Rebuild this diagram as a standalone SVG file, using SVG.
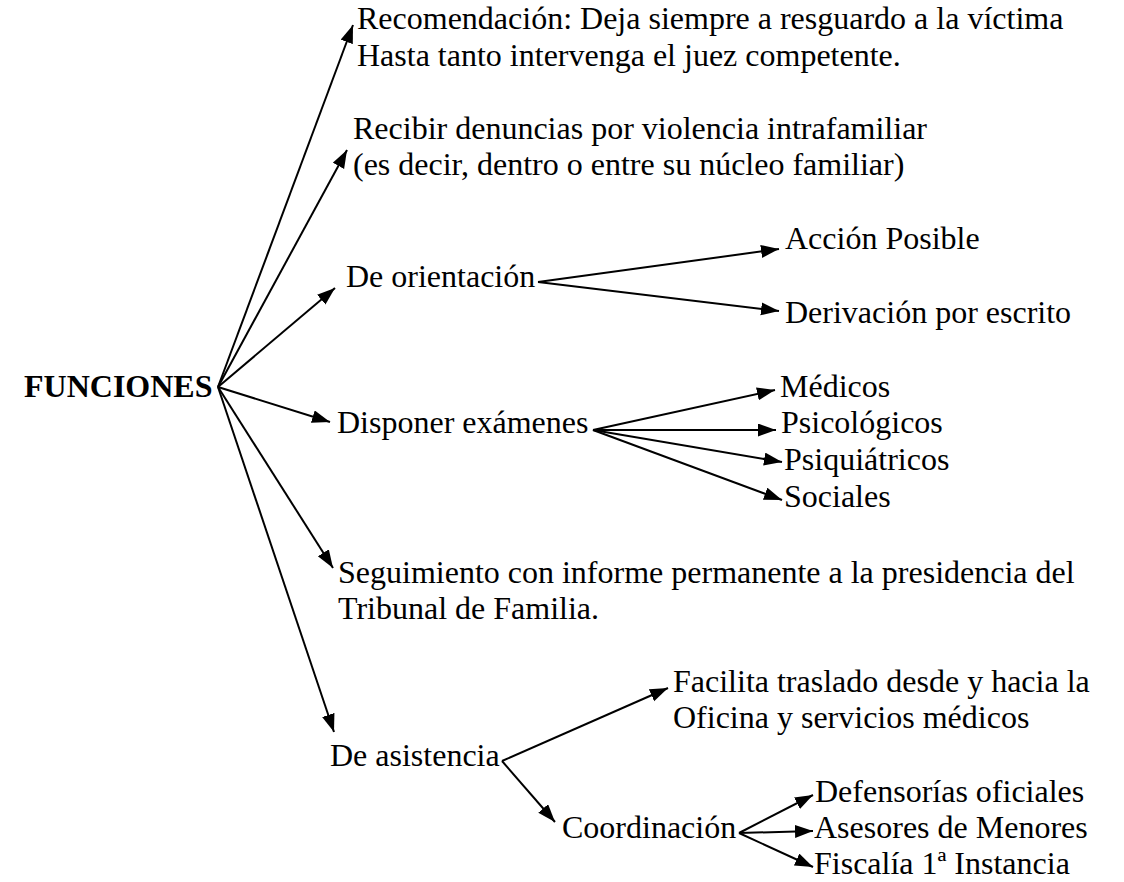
<svg xmlns="http://www.w3.org/2000/svg" width="1124" height="882" viewBox="0 0 1124 882">
<defs>
<marker id="ah" markerUnits="userSpaceOnUse" markerWidth="20" markerHeight="14" refX="18" refY="6.5" orient="auto">
<path d="M0,0 L18,6.5 L0,13 z" fill="#000"/>
</marker>
<style>
text{font-family:"Liberation Serif","Times New Roman",serif;font-size:32px;fill:#000}
.b{font-weight:bold}
.c line{stroke:#000;stroke-width:2;marker-end:url(#ah)}
</style>
</defs>
<rect width="1124" height="882" fill="#fff"/>
<g class="c" id="connectors">
<line x1="218" y1="387" x2="353" y2="25"/>
<line x1="218" y1="387" x2="347" y2="150"/>
<line x1="218" y1="387" x2="335" y2="288"/>
<line x1="218" y1="387" x2="330" y2="422"/>
<line x1="218" y1="387" x2="333" y2="568"/>
<line x1="218" y1="387" x2="334" y2="732"/>
<line x1="538" y1="282" x2="779" y2="249"/>
<line x1="538" y1="282" x2="779" y2="311"/>
<line x1="593" y1="430" x2="775" y2="390"/>
<line x1="593" y1="430" x2="776" y2="430"/>
<line x1="593" y1="430" x2="782" y2="462"/>
<line x1="593" y1="430" x2="782" y2="500"/>
<line x1="502" y1="761" x2="668" y2="688"/>
<line x1="502" y1="761" x2="555" y2="822"/>
<line x1="739" y1="833" x2="813" y2="795"/>
<line x1="739" y1="833" x2="813" y2="831"/>
<line x1="739" y1="833" x2="813" y2="867"/>
</g>
<g id="funciones"><text class="b" x="24" y="397">FUNCIONES</text></g>
<g id="recomendacion"><text x="357" y="29">Recomendación: Deja siempre a resguardo a la víctima</text><text x="357" y="66">Hasta tanto intervenga el juez competente.</text></g>
<g id="recibir"><text x="353" y="139">Recibir denuncias por violencia intrafamiliar</text><text x="353" y="175">(es decir, dentro o entre su núcleo familiar)</text></g>
<g id="orientacion"><text x="346" y="287">De orientación</text></g>
<g id="accion"><text x="785" y="249">Acción Posible</text></g>
<g id="derivacion"><text x="785" y="323">Derivación por escrito</text></g>
<g id="disponer"><text x="337" y="433">Disponer exámenes</text></g>
<g id="medicos"><text x="780" y="397">Médicos</text></g>
<g id="psicologicos"><text x="781" y="433">Psicológicos</text></g>
<g id="psiquiatricos"><text x="784" y="470">Psiquiátricos</text></g>
<g id="sociales"><text x="784" y="507">Sociales</text></g>
<g id="seguimiento"><text x="338" y="583">Seguimiento con informe permanente a la presidencia del</text><text x="338" y="619">Tribunal de Familia.</text></g>
<g id="asistencia"><text x="330" y="766">De asistencia</text></g>
<g id="facilita"><text x="673" y="692">Facilita traslado desde y hacia la</text><text x="673" y="728">Oficina y servicios médicos</text></g>
<g id="coordinacion"><text x="562" y="838">Coordinación</text></g>
<g id="defensorias"><text x="815" y="802">Defensorías oficiales</text></g>
<g id="asesores"><text x="814" y="838">Asesores de Menores</text></g>
<g id="fiscalia"><text x="814" y="874">Fiscalía 1ª Instancia</text></g>
</svg>
